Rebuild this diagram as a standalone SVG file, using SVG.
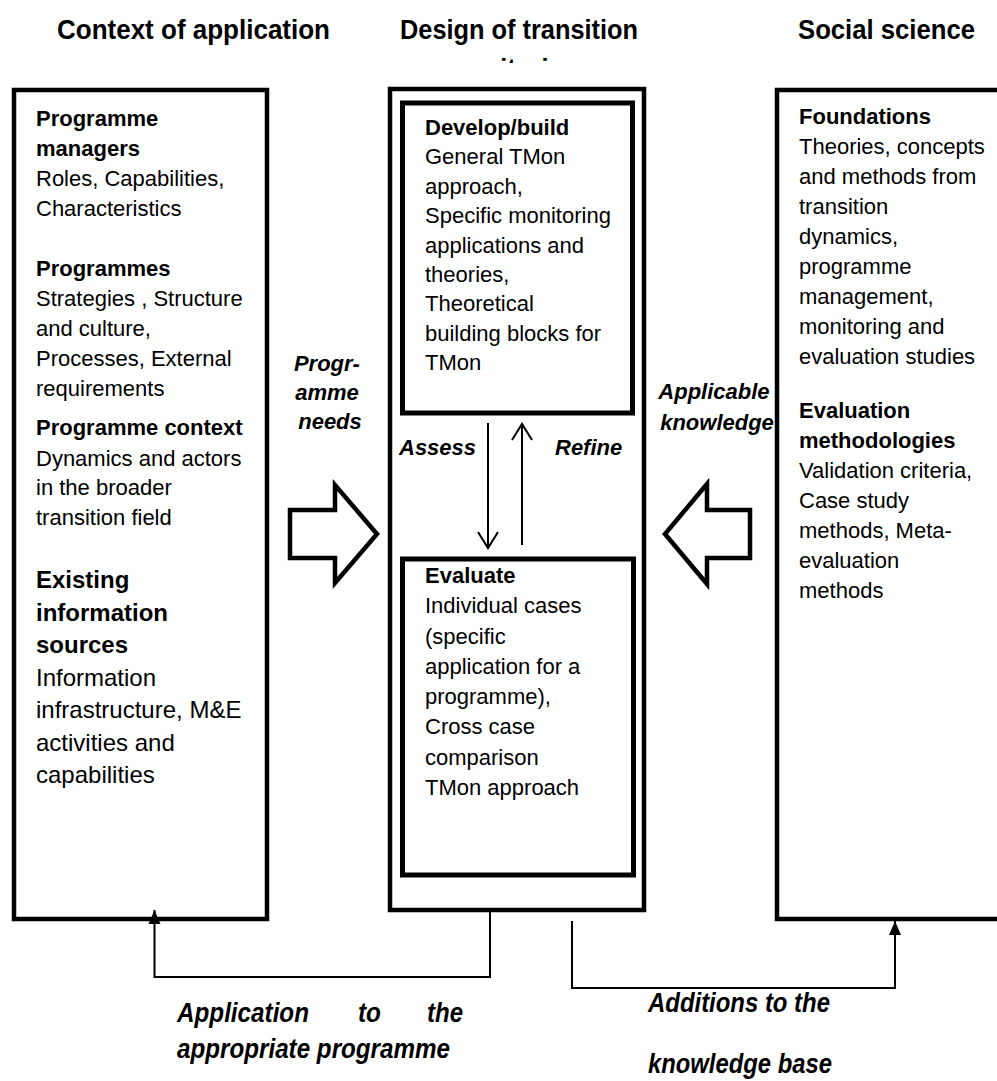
<svg xmlns="http://www.w3.org/2000/svg" width="997" height="1081" viewBox="0 0 997 1081">
  <style>
    .frame { fill: none; stroke: #000; stroke-width: 4.5; }
    .inner { fill: none; stroke: #000; stroke-width: 5; }
    .txt { font-family: "Liberation Sans", Arial, sans-serif; font-size: 22px; fill: #000; }
    .b { font-weight: bold; }
    .lg { font-size: 24px; }
    .hdr { font-family: "Liberation Sans", Arial, sans-serif; font-size: 28px; font-weight: bold; fill: #000; }
    .lbl { font-family: "Liberation Sans", Arial, sans-serif; font-size: 22px; font-weight: bold; font-style: italic; fill: #000; }
    .lblc { font-family: "Liberation Sans", Arial, sans-serif; font-size: 28px; font-weight: bold; font-style: italic; fill: #000; }
    .line { fill: none; stroke: #000; stroke-width: 2; }
    .block { fill: #fff; stroke: #000; stroke-width: 4.5; stroke-linejoin: miter; }
  </style>
  <defs>
    <marker id="solid" markerUnits="userSpaceOnUse" markerWidth="14" markerHeight="14" refX="14" refY="6" orient="auto" overflow="visible">
      <path d="M0,0 L14,6 L0,12 z" fill="#000"/>
    </marker>
    <marker id="open" markerUnits="userSpaceOnUse" markerWidth="18" markerHeight="22" refX="16" refY="10" orient="auto" overflow="visible">
      <path d="M0,0 L16,10 L0,20" fill="none" stroke="#000" stroke-width="2"/>
    </marker>
    <clipPath id="titleClip">
      <rect x="380" y="0" width="280" height="63"/>
    </clipPath>
  </defs>

  <rect width="997" height="1081" fill="#fff"/>

  <!-- column titles -->
  <g id="titles">
    <text class="hdr" x="57" y="39" textLength="273" lengthAdjust="spacingAndGlyphs">Context of application</text>
    <g clip-path="url(#titleClip)">
      <text class="hdr" x="400" y="39" textLength="238" lengthAdjust="spacingAndGlyphs">Design of transition</text>
      <text class="hdr" x="446" y="78" textLength="134" lengthAdjust="spacingAndGlyphs">monitoring</text>
    </g>
    <text class="hdr" x="798" y="39" textLength="177" lengthAdjust="spacingAndGlyphs">Social science</text>
  </g>

  <!-- left column: context of application -->
  <g id="context">
    <rect class="frame" x="14" y="90" width="253" height="829"/>
    <text class="txt">
      <tspan class="b" x="36" y="126">Programme</tspan>
      <tspan class="b" x="36" y="156">managers</tspan>
      <tspan x="36" y="186">Roles, Capabilities,</tspan>
      <tspan x="36" y="216">Characteristics</tspan>
      <tspan class="b" x="36" y="276">Programmes</tspan>
      <tspan x="36" y="306">Strategies , Structure</tspan>
      <tspan x="36" y="336">and culture,</tspan>
      <tspan x="36" y="366">Processes, External</tspan>
      <tspan x="36" y="396">requirements</tspan>
      <tspan class="b" x="36" y="435">Programme context</tspan>
      <tspan x="36" y="466">Dynamics and actors</tspan>
      <tspan x="36" y="495">in the broader</tspan>
      <tspan x="36" y="525">transition field</tspan>
    </text>
    <text class="txt lg">
      <tspan class="b" x="36" y="588">Existing</tspan>
      <tspan class="b" x="36" y="621">information</tspan>
      <tspan class="b" x="36" y="653">sources</tspan>
      <tspan x="36" y="686">Information</tspan>
      <tspan x="36" y="718">infrastructure, M&amp;E</tspan>
      <tspan x="36" y="751">activities and</tspan>
      <tspan x="36" y="783">capabilities</tspan>
    </text>
  </g>

  <!-- centre column: design of transition monitoring -->
  <g id="design">
    <rect class="frame" x="390" y="89" width="254" height="821"/>
  </g>

  <g id="develop">
    <rect class="inner" x="402.5" y="103" width="230" height="310"/>
    <text class="txt">
      <tspan class="b" x="425" y="135">Develop/build</tspan>
      <tspan x="425" y="164">General TMon</tspan>
      <tspan x="425" y="194">approach,</tspan>
      <tspan x="425" y="223">Specific monitoring</tspan>
      <tspan x="425" y="253">applications and</tspan>
      <tspan x="425" y="282">theories,</tspan>
      <tspan x="425" y="311">Theoretical</tspan>
      <tspan x="425" y="341">building blocks for</tspan>
      <tspan x="425" y="370">TMon</tspan>
    </text>
  </g>

  <g id="evaluate">
    <rect class="inner" x="402.5" y="559" width="231" height="316"/>
    <text class="txt">
      <tspan class="b" x="425" y="583">Evaluate</tspan>
      <tspan x="425" y="613">Individual cases</tspan>
      <tspan x="425" y="644">(specific</tspan>
      <tspan x="425" y="674">application for a</tspan>
      <tspan x="425" y="704">programme),</tspan>
      <tspan x="425" y="734">Cross case</tspan>
      <tspan x="425" y="765">comparison</tspan>
      <tspan x="425" y="795">TMon approach</tspan>
    </text>
  </g>

  <!-- right column: social science -->
  <g id="social">
    <rect class="frame" x="777" y="90" width="240" height="829"/>
    <text class="txt">
      <tspan class="b" x="799" y="124">Foundations</tspan>
      <tspan x="799" y="154">Theories, concepts</tspan>
      <tspan x="799" y="184">and methods from</tspan>
      <tspan x="799" y="214">transition</tspan>
      <tspan x="799" y="244">dynamics,</tspan>
      <tspan x="799" y="274">programme</tspan>
      <tspan x="799" y="304">management,</tspan>
      <tspan x="799" y="334">monitoring and</tspan>
      <tspan x="799" y="364">evaluation studies</tspan>
      <tspan class="b" x="799" y="418">Evaluation</tspan>
      <tspan class="b" x="799" y="448">methodologies</tspan>
      <tspan x="799" y="478">Validation criteria,</tspan>
      <tspan x="799" y="508">Case study</tspan>
      <tspan x="799" y="538">methods, Meta-</tspan>
      <tspan x="799" y="568">evaluation</tspan>
      <tspan x="799" y="598">methods</tspan>
    </text>
  </g>

  <!-- flows between the columns -->
  <g id="connectors">
    <polygon class="block" points="290,510 335,510 335,485 377,534 335,583 335,558 290,558"/>
    <polygon class="block" points="750,510 707,510 707,484 665,534 707,584 707,558 750,558"/>

    <line class="line" x1="488" y1="423" x2="488" y2="548" marker-end="url(#open)"/>
    <line class="line" x1="522" y1="545" x2="522" y2="424" marker-end="url(#open)"/>

    <polyline class="line" points="490,911 490,977 154.5,977 154.5,910" marker-end="url(#solid)"/>
    <polyline class="line" points="572,921 572,988 895,988 895,921" marker-end="url(#solid)"/>
  </g>

  <!-- flow labels -->
  <g id="labels">
    <text class="lbl" text-anchor="middle">
      <tspan x="330" y="371">Progr-</tspan>
      <tspan x="330" y="400">amme</tspan>
      <tspan x="330" y="429">needs</tspan>
    </text>
    <text class="lbl" text-anchor="middle">
      <tspan x="717" y="399">Applicable</tspan>
      <tspan x="717" y="430">knowledge</tspan>
    </text>
    <text class="lbl" x="399" y="455">Assess</text>
    <text class="lbl" x="555" y="455">Refine</text>

    <text class="lblc" x="177" y="1022" textLength="132" lengthAdjust="spacingAndGlyphs">Application</text>
    <text class="lblc" x="358" y="1022" textLength="23" lengthAdjust="spacingAndGlyphs">to</text>
    <text class="lblc" x="427" y="1022" textLength="36" lengthAdjust="spacingAndGlyphs">the</text>
    <text class="lblc" x="177" y="1058" textLength="273" lengthAdjust="spacingAndGlyphs">appropriate programme</text>
    <text class="lblc" x="648" y="1012" textLength="182" lengthAdjust="spacingAndGlyphs">Additions to the</text>
    <text class="lblc" x="648" y="1073" textLength="184" lengthAdjust="spacingAndGlyphs">knowledge base</text>
  </g>
</svg>
